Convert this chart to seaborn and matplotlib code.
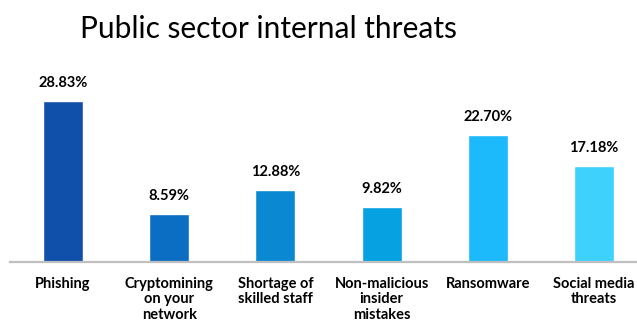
import matplotlib
matplotlib.use("Agg")
import matplotlib.pyplot as plt
import seaborn as sns
import pandas as pd

categories = [
    "Phishing",
    "Cryptomining\non your\nnetwork",
    "Shortage of\nskilled staff",
    "Non-malicious\ninsider\nmistakes",
    "Ransomware",
    "Social media\nthreats",
]
values = [28.83, 8.59, 12.88, 9.82, 22.70, 17.18]
colors = ["#1150AA", "#0B6EC2", "#0A89D2", "#06A1E0", "#1CB9FB", "#3ED1FB"]

df = pd.DataFrame({"category": categories, "value": values})

sns.set_theme(style="white")
plt.rcParams["font.family"] = ["Lato", "DejaVu Sans"]

W, H = 637, 328
fig = plt.figure(figsize=(W / 100, H / 100), dpi=100)
px_per_unit = 5.58
base_y = 66
ax = fig.add_axes([10 / W, base_y / H, 637 / W, (H - base_y) / H])

sns.barplot(data=df, x="category", y="value", hue="category", palette=colors,
            width=0.377, legend=False, ax=ax, saturation=1)

ax.set_xlim(-0.5, 5.5)
ax.set_ylim(0, (H - base_y) / px_per_unit)
ax.set_xlabel("")
ax.set_ylabel("")
ax.set_yticks([])
for s in ["top", "right", "left"]:
    ax.spines[s].set_visible(False)
ax.spines["bottom"].set_color("#BFBFBF")
ax.spines["bottom"].set_linewidth(1.6)

ax.tick_params(axis="x", length=0, pad=10.5)
ax.set_xticks(range(len(categories)))
ax.set_xticklabels(categories, fontsize=10.5, fontweight="bold", color="#000000",
                   va="top", linespacing=1.15)

for i, v in enumerate(values):
    ax.annotate(f"{v:.2f}%", (i, v), xytext=(0, 8), textcoords="offset points",
                ha="center", va="bottom", fontsize=10.5, fontweight="bold",
                color="#000000")

fig.text(268 / W, 1 - 29 / H, "Public sector internal threats", ha="center",
         va="center", fontsize=21.5, fontweight="normal", color="#000000")

fig.savefig("out.png", dpi=100)
